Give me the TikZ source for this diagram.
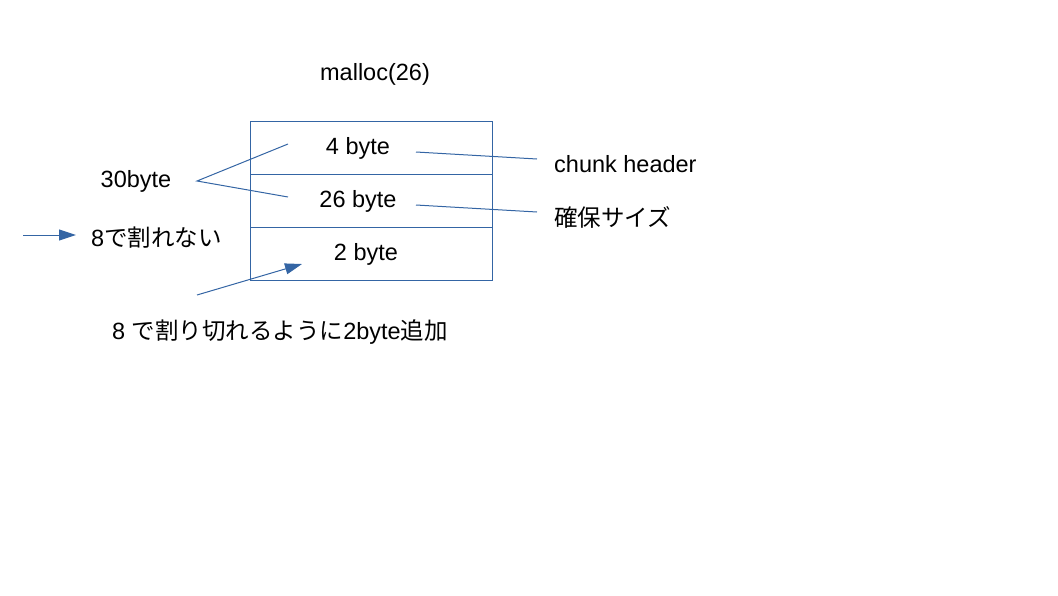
\documentclass[tikz,border=0pt]{standalone}
\usepackage{fontspec}
\setmainfont{Liberation Sans}
\newfontfamily\cjk{Noto Sans CJK JP}
\usetikzlibrary{arrows.meta}

\definecolor{lineblue}{HTML}{3465A4}

\begin{document}
\begin{tikzpicture}[x=1pt, y=-1pt,
	every node/.style={font=\fontsize{23.5}{28}\selectfont, inner sep=0pt},
	link/.style={lineblue, line width=1pt},
	pointer/.style={link, -{Triangle[length=17pt, width=11pt]}}]
\useasboundingbox (0,0) rectangle (1058,595);

% chunk
\draw[link] (250,121) rectangle (492,280);
\draw[link] (250,174) -- (492,174);
\draw[link] (250,227) -- (492,227);

\node (title) at (375,74) {malloc(26)};
\node (hdr) at (358,148) {4 byte};
\node (req) at (358,201) {26 byte};
\node (pad) at (366,254) {2 byte};

\node[anchor=west] (hdrlabel) at (554,164) {chunk header};
\node[anchor=west] (reqlabel) at (554,217) {\cjk 確保サイズ};
\node (total) at (136,181) {30byte};
\node[anchor=west] (notdiv) at (91,238) {8{\cjk で割れない}};
\node[anchor=west] (padnote) at (112,332) {8 {\cjk で割り切れるように}2byte{\cjk 追加}};

% leaders
\coordinate (hdrend) at (416,152);
\coordinate (reqend) at (416,205);
\coordinate (hdrtip) at (537,159);
\coordinate (reqtip) at (537,212);
\draw[link] (hdrend) -- (hdrtip);
\draw[link] (reqend) -- (reqtip);

\coordinate (apex) at (197,181);
\draw[link] (288,144) -- (apex) -- (288,197);

\coordinate (arrowstart) at (23,235);
\coordinate (arrowend) at (76,235);
\draw[pointer] (arrowstart) -- (arrowend);

\coordinate (padstart) at (197,295);
\coordinate (padend) at (302,264);
\draw[pointer] (padstart) -- (padend);
\end{tikzpicture}
\end{document}
